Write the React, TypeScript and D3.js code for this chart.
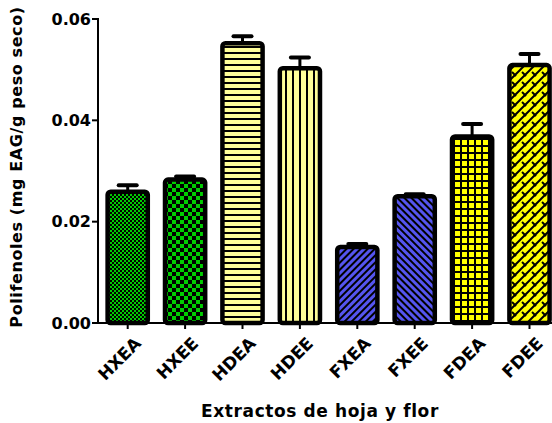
import React from 'react';
import * as d3 from 'd3';

// Sample names and measured values (mg EAG / g)
const categories = ['HXEA', 'HXEE', 'HDEA', 'HDEE', 'FXEA', 'FXEE', 'FDEA', 'FDEE'];
const means = [0.0259, 0.0283, 0.0552, 0.0503, 0.0150, 0.0250, 0.0368, 0.0509];
const errors = [0.0013, 0.0006, 0.0014, 0.0021, 0.0006, 0.0004, 0.0025, 0.0022];
const yTicks = [0.0, 0.02, 0.04, 0.06];

const W = 552;
const H = 423;
const margin = { top: 19, right: 0, bottom: 100, left: 98 };

const font = 'DejaVu Sans, Verdana, sans-serif';

const Patterns: React.FC = () => (
  <defs>
    {/* fine checker */}
    <pattern id="p0" width="4" height="4" patternUnits="userSpaceOnUse">
      <rect width="4" height="4" fill="#000" />
      <rect width="2" height="2" fill="#00cc00" />
      <rect x="2" y="2" width="2" height="2" fill="#00cc00" />
    </pattern>
    {/* coarse checker */}
    <pattern id="p1" width="8" height="8" patternUnits="userSpaceOnUse">
      <rect width="8" height="8" fill="#000" />
      <rect width="4" height="4" fill="#00cc00" />
      <rect x="4" y="4" width="4" height="4" fill="#00cc00" />
    </pattern>
    {/* horizontal stripes */}
    <pattern id="p2" width="6" height="6" patternUnits="userSpaceOnUse">
      <rect width="6" height="6" fill="#ffff99" />
      <rect y="4" width="6" height="2" fill="#000" />
    </pattern>
    {/* vertical stripes */}
    <pattern id="p3" width="7" height="7" patternUnits="userSpaceOnUse">
      <rect width="7" height="7" fill="#ffff99" />
      <rect x="5" width="2" height="7" fill="#000" />
    </pattern>
    {/* diagonal up */}
    <pattern id="p4" width="5" height="5" patternUnits="userSpaceOnUse" patternTransform="rotate(45)">
      <rect width="5" height="5" fill="#5555f0" />
      <rect width="2" height="5" fill="#000" />
    </pattern>
    {/* diagonal down */}
    <pattern id="p5" width="5" height="5" patternUnits="userSpaceOnUse" patternTransform="rotate(-45)">
      <rect width="5" height="5" fill="#5555f0" />
      <rect width="2" height="5" fill="#000" />
    </pattern>
    {/* grid */}
    <pattern id="p6" width="7" height="7" patternUnits="userSpaceOnUse">
      <rect width="7" height="7" fill="#ffff00" />
      <rect x="5" width="2" height="7" fill="#000" />
      <rect y="5" width="7" height="2" fill="#000" />
    </pattern>
    {/* weave */}
    <pattern id="p7" width="10" height="10" patternUnits="userSpaceOnUse">
      <rect width="10" height="10" fill="#ffff00" />
      <path d="M0 10 L10 0 M-2 2 L2 -2 M8 12 L12 8" stroke="#000" strokeWidth="2" />
      <path d="M2 2 L6 6" stroke="#000" strokeWidth="2" />
    </pattern>
  </defs>
);

const App: React.FC = () => {
  const innerH = H - margin.top - margin.bottom;

  const x = d3
    .scaleBand<string>()
    .domain(categories)
    .range([margin.left + 1, margin.left + 1 + 8 * 57.4])
    .paddingInner(0.3)
    .paddingOuter(0.15);

  const y = d3.scaleLinear().domain([0, 0.06]).range([margin.top + innerH, margin.top]);
  const fmt = d3.format('.2f');
  const y0 = y(0);

  return (
    <svg width={W} height={H} style={{ position: 'absolute', left: 0, top: 0 }} fontFamily={font}>
      <Patterns />

      {/* bars */}
      {categories.map((c, i) => {
        const bx = x(c) as number;
        const bw = x.bandwidth();
        const top = y(means[i]);
        const errTop = y(means[i] + errors[i]);
        const cx = bx + bw / 2;
        return (
          <g key={c}>
            <line x1={cx} x2={cx} y1={top} y2={errTop} stroke="#000" strokeWidth={3} />
            <line x1={cx - 9} x2={cx + 9} y1={errTop} y2={errTop} stroke="#000" strokeWidth={4} strokeLinecap="round" />
            <rect
              x={bx}
              y={top}
              width={bw}
              height={y0 - top}
              rx={3}
              fill={`url(#p${i})`}
              stroke="#000"
              strokeWidth={4.5}
            />
          </g>
        );
      })}

      {/* y axis */}
      <line x1={margin.left} x2={margin.left} y1={y(0.06) - 1} y2={y0} stroke="#000" strokeWidth={2} />
      {yTicks.map((t) => (
        <g key={t}>
          <line x1={margin.left - 6} x2={margin.left} y1={y(t)} y2={y(t)} stroke="#000" strokeWidth={2} />
          <text
            x={margin.left - 7}
            y={y(t)}
            dy="0.36em"
            textAnchor="end"
            fontSize={16}
            fontWeight="bold"
          >
            {fmt(t)}
          </text>
        </g>
      ))}

      {/* x axis */}
      <line x1={margin.left} x2={W} y1={y0} y2={y0} stroke="#000" strokeWidth={2} />
      {categories.map((c) => {
        const cx = (x(c) as number) + x.bandwidth() / 2;
        return (
          <g key={c}>
            <line x1={cx} x2={cx} y1={y0} y2={y0 + 6} stroke="#000" strokeWidth={2} />
            <text
              transform={`translate(${cx + 6},${y0 + 13}) rotate(-45)`}
              textAnchor="end"
              dy="0.7em"
              fontSize={17}
              fontWeight="bold"
            >
              {c}
            </text>
          </g>
        );
      })}

      {/* titles */}
      <text
        transform={`translate(22,${(y(0.06) + y0) / 2 - 4}) rotate(-90)`}
        textAnchor="middle"
        fontSize={16}
        letterSpacing={0.6}
        fontWeight="bold"
      >
        Polifenoles (mg EAG/g peso seco)
      </text>
      <text x={320} y={417} textAnchor="middle" fontSize={17} letterSpacing={0.6} fontWeight="bold">
        Extractos de hoja y flor
      </text>
    </svg>
  );
};

export default App;
